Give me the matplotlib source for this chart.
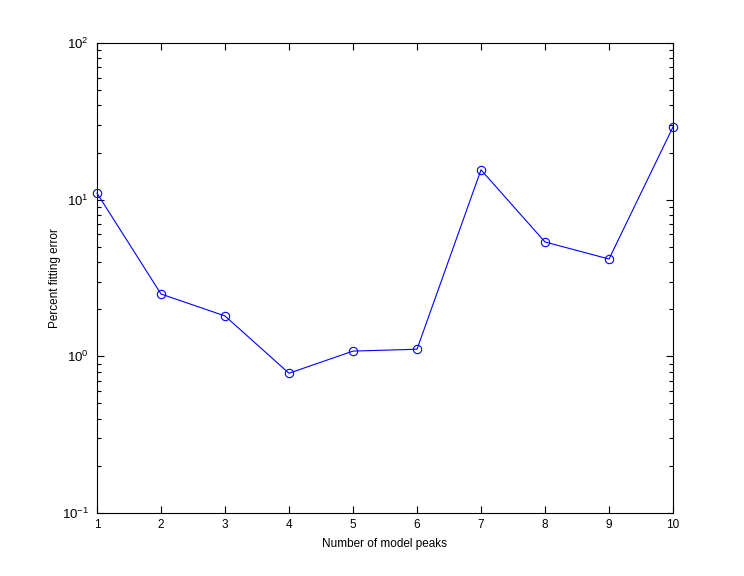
import matplotlib
matplotlib.use("Agg")
import matplotlib.pyplot as plt
from matplotlib.ticker import LogLocator, NullFormatter

peaks = [1, 2, 3, 4, 5, 6, 7, 8, 9, 10]
error_pct = [11.0, 2.5, 1.81, 0.78, 1.08, 1.11, 15.5, 5.37, 4.18, 29.1]

plt.rcParams['font.family'] = ['Liberation Sans', 'DejaVu Sans']
plt.rcParams['mathtext.fontset'] = 'custom'
plt.rcParams['mathtext.rm'] = 'Liberation Sans'

fig = plt.figure(figsize=(7.44, 5.76), dpi=100)
ax = fig.add_axes([97/744, 63/576, 576/744, 470/576])
ax.plot(peaks, error_pct, color='#0000ff', lw=0.8, marker='o', markersize=6,
        markerfacecolor='none', markeredgecolor='#0000ff', markeredgewidth=0.8,
        clip_on=False, zorder=3)
ax.set_yscale('log')
ax.set_ylim(0.1, 100)
ax.set_xlim(1, 10)
ax.set_xticks(peaks)
ax.yaxis.set_major_locator(LogLocator(base=10, numticks=10))
ax.yaxis.set_minor_locator(LogLocator(base=10, subs=range(2, 10), numticks=20))
ax.yaxis.set_minor_formatter(NullFormatter())
ax.tick_params(which='both', direction='in', top=True, right=True)
ax.tick_params(axis='x', labelsize=8.5, pad=4)
ax.tick_params(axis='y', labelsize=9.5, pad=6)
ax.tick_params(which='major', length=5, width=0.8)
ax.tick_params(which='minor', length=3, width=0.8)
for s in ax.spines.values():
    s.set_linewidth(0.8)
ax.set_xlabel('Number of model peaks', fontsize=8.5, labelpad=5)
ax.set_ylabel('Percent fitting error', fontsize=8.5)
ax.yaxis.set_label_coords(-0.062, 0.5)
fig.savefig('out.png', dpi=100)
